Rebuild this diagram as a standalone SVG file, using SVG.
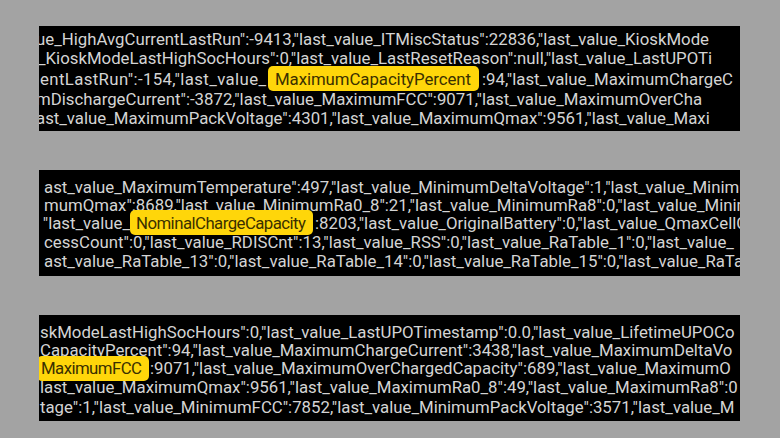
<svg xmlns="http://www.w3.org/2000/svg" width="780" height="438" viewBox="0 0 780 438">
<style>
.t{font-family:Roboto,"Liberation Sans",sans-serif;font-size:16.8px;fill:#d4d4d4}
.e{text-anchor:end}
.h{font-family:Roboto,"Liberation Sans",sans-serif;font-size:16.8px;fill:#3a3000}
.hl{fill:#ffd60a}
</style>
<defs>
<clipPath id="c1"><rect x="39" y="26" width="701" height="105"/></clipPath>
<clipPath id="c2"><rect x="39" y="170" width="701" height="106"/></clipPath>
<clipPath id="c3"><rect x="39" y="315" width="701" height="106"/></clipPath>
</defs>
<rect width="780" height="438" fill="#a3a3a3"/>
<g id="panel1" clip-path="url(#c1)">
<rect x="39" y="26" width="701" height="105" fill="#000"/>
<text class="t" x="32" y="45">lue_HighAvgCurrentLastRun":-9413,"last_value_ITMiscStatus":22836,"last_value_KioskMode</text>
<text class="t" x="38" y="64">_KioskModeLastHighSocHours":0,"last_value_LastResetReason":null,"last_value_LastUPOTi</text>
<text class="t" x="40" y="85" textLength="226">entLastRun":-154,"last_value_</text>
<rect class="hl" x="268" y="66" width="211" height="25" rx="5"/>
<text class="h" x="275" y="85" textLength="196">MaximumCapacityPercent</text>
<text class="t" x="482" y="85">:94,"last_value_MaximumChargeC</text>
<text class="t" x="36" y="105">mDischargeCurrent":-3872,"last_value_MaximumFCC":9071,"last_value_MaximumOverCha</text>
<text class="t" x="36" y="124">ast_value_MaximumPackVoltage":4301,"last_value_MaximumQmax":9561,"last_value_Maxi</text>
</g>
<g id="panel2" clip-path="url(#c2)">
<rect x="39" y="170" width="701" height="106" fill="#000"/>
<text class="t" x="44" y="193">ast_value_MaximumTemperature":497,"last_value_MinimumDeltaVoltage":1,"last_value_Minimum</text>
<text class="t" x="44" y="211">mumQmax":8689,"last_value_MinimumRa0_8":21,"last_value_MinimumRa8":0,"last_value_Minim</text>
<rect class="hl" x="130" y="210" width="183" height="25" rx="5"/>
<text class="t e" x="130" y="229">"last_value_</text>
<text class="h" x="136" y="229" textLength="170">NominalChargeCapacity</text>
<text class="t" x="315" y="229">:8203,"last_value_OriginalBattery":0,"last_value_QmaxCellC</text>
<text class="t" x="44" y="248">cessCount":0,"last_value_RDISCnt":13,"last_value_RSS":0,"last_value_RaTable_1":0,"last_value_</text>
<text class="t" x="44" y="267">ast_value_RaTable_13":0,"last_value_RaTable_14":0,"last_value_RaTable_15":0,"last_value_RaTab</text>
</g>
<g id="panel3" clip-path="url(#c3)">
<rect x="39" y="315" width="701" height="106" fill="#000"/>
<text class="t" x="40" y="338">skModeLastHighSocHours":0,"last_value_LastUPOTimestamp":0.0,"last_value_LifetimeUPOCo</text>
<text class="t" x="40" y="356">CapacityPercent":94,"last_value_MaximumChargeCurrent":3438,"last_value_MaximumDeltaVo</text>
<rect class="hl" x="37" y="356" width="112" height="25" rx="5"/>
<text class="h" x="41" y="374" textLength="101">MaximumFCC</text>
<text class="t" x="150" y="374">:9071,"last_value_MaximumOverChargedCapacity":689,"last_value_MaximumO</text>
<text class="t" x="40" y="393">last_value_MaximumQmax":9561,"last_value_MaximumRa0_8":49,"last_value_MaximumRa8":0</text>
<text class="t" x="40" y="413">tage":1,"last_value_MinimumFCC":7852,"last_value_MinimumPackVoltage":3571,"last_value_M</text>
</g>
</svg>
